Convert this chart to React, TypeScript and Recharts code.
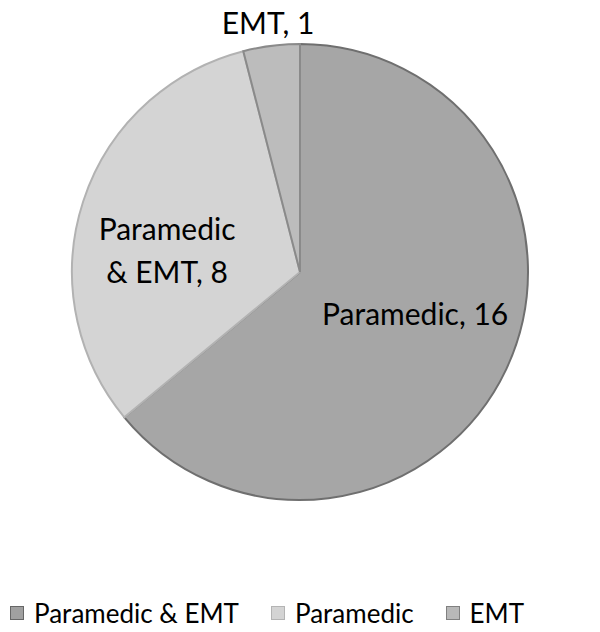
import React from 'react';
import { PieChart, Pie, Cell, Legend } from 'recharts';

const categories = ['Paramedic', 'Paramedic & EMT', 'EMT'];
const values = [16, 8, 1];
const fills = ['#a6a6a6', '#d4d4d4', '#bcbcbc'];
const strokes = ['#6f6f6f', '#b2b2b2', '#8a8a8a'];

const legendNames = ['Paramedic & EMT', 'Paramedic', 'EMT'];
const legendFills = ['#a0a0a0', '#d4d4d4', '#b8b8b8'];
const legendStrokes = ['#666666', '#b4b4b4', '#808080'];

// label line texts and offsets (fractions of outer radius from center)
const labelLines = [['Paramedic, 16'], ['Paramedic', '& EMT, 8'], ['EMT, 1']];
const labelOffsets = [
  { x: 0.505, y: 0.18 },
  { x: -0.583, y: -0.098 },
  { x: -0.14, y: -1.096 },
];

const data = categories.map((name, i) => ({ name, value: values[i] }));

const FONT = 'Lato, "Open Sans", sans-serif';

const renderLabel = (props: any) => {
  const { cx, cy, outerRadius, index } = props;
  const off = labelOffsets[index];
  const x = cx + off.x * outerRadius;
  const y = cy + off.y * outerRadius;
  const lines = labelLines[index];
  const lh = 43;
  const startY = y - ((lines.length - 1) * lh) / 2;
  return (
    <text
      x={x}
      y={startY}
      textAnchor="middle"
      dominantBaseline="central"
      fontFamily={FONT}
      fontSize={30}
      fill="#000"
    >
      {lines.map((l, i) => (
        <tspan key={i} x={x} y={startY + i * lh} dominantBaseline="central">
          {l}
        </tspan>
      ))}
    </text>
  );
};

const renderLegend = () => (
  <div style={{ display: 'flex', alignItems: 'center', fontFamily: FONT, fontSize: 26, color: '#000' }}>
    {legendNames.map((n, i) => (
      <div key={n} style={{ display: 'flex', alignItems: 'center', marginLeft: i === 0 ? 10 : 32 }}>
        <span
          style={{
            display: 'inline-block',
            width: 12,
            height: 12,
            background: legendFills[i],
            border: `1.5px solid ${legendStrokes[i]}`,
            marginRight: 10,
          }}
        />
        <span>{n}</span>
      </div>
    ))}
  </div>
);

export default function App() {
  return (
    <div style={{ position: 'absolute', left: 0, top: 0, width: 600, height: 632, background: '#fff' }}>
      <PieChart width={600} height={632}>
        <Pie
          data={data}
          dataKey="value"
          nameKey="name"
          cx={295}
          cy={267}
          outerRadius={228}
          startAngle={90}
          endAngle={-270}
          isAnimationActive={false}
          label={renderLabel}
          labelLine={false}
        >
          {data.map((d, i) => (
            <Cell key={d.name} fill={fills[i]} stroke={strokes[i]} strokeWidth={2} />
          ))}
        </Pie>
        <Legend
          content={renderLegend}
          wrapperStyle={{ position: 'absolute', top: 597, left: 0, width: 600 }}
        />
      </PieChart>
    </div>
  );
}
